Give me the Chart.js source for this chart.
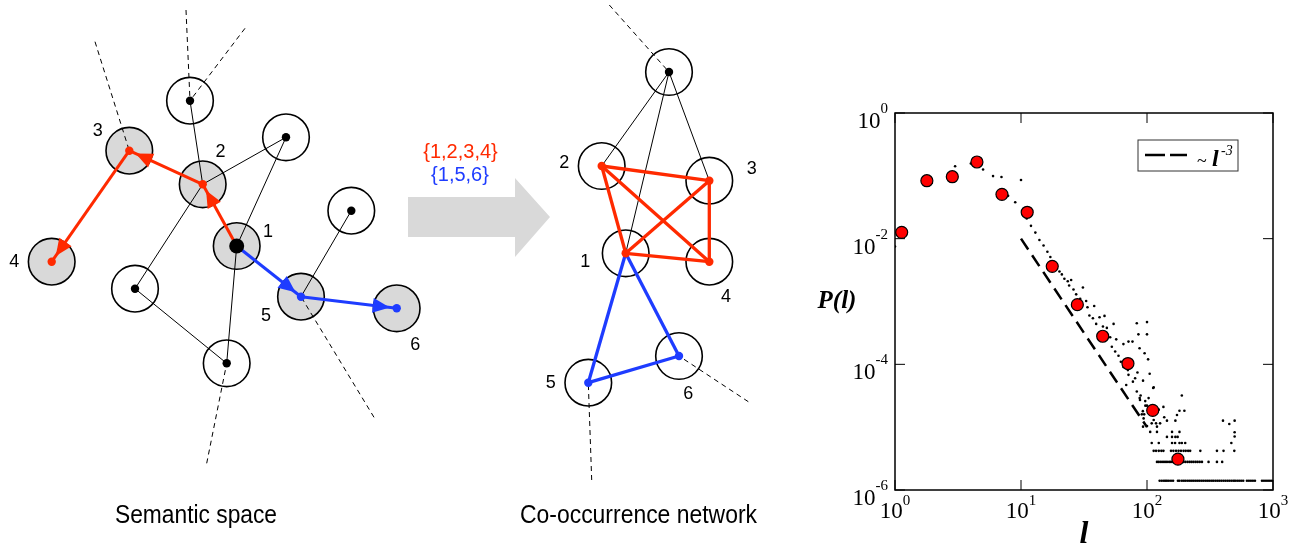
<!DOCTYPE html>
<html>
<head>
<meta charset="utf-8">
<script src="https://cdn.jsdelivr.net/npm/chart.js@4.4.1/dist/chart.umd.min.js"></script>
<style>
  html, body { margin: 0; padding: 0; background: #fff; }
  #wrap { position: relative; width: 1304px; height: 551px; overflow: hidden; }
  canvas { position: absolute; top: 0; }
  #diagram { left: 0; }
  #plot { left: 800px; }
</style>
</head>
<body>
<div id="wrap">
  <canvas id="diagram" width="800" height="551"></canvas>
  <canvas id="plot" width="504" height="551"></canvas>
</div>
<script>
const RED = '#ff2a00';
const BLUE = '#1e3cff';
const SHADE = '#d9d9d9';

// ---- semantic space (left diagram), node centres in diagram units ----
const semNames = ['1', '2', '3', '4', '5', '6', 'a', 'b', 'c', 'd', 'e'];
const semX = [236.7, 202.7, 129.3, 51.7, 301.0, 396.7, 190.0, 286.0, 351.3, 135.0, 226.7];
const semY = [246.0, 184.3, 150.7, 261.7, 296.7, 308.3, 100.7, 137.3, 210.7, 288.7, 363.3];
const semShaded = ['1', '2', '3', '4', '5', '6'];
const semEdges = [['a', '2'], ['b', '2'], ['2', 'd'], ['b', '1'], ['1', 'e'], ['d', 'e'], ['c', '5']];
const semRays = [[186, 10, 'a'], [245, 28.3, 'a'], [95, 41.7, '3'], [374, 417.3, '5'], [206.7, 463.3, 'e']];
const semRedPath = [['1', '2'], ['2', '3'], ['3', '4']];
const semBluePath = [['1', '5'], ['5', '6']];
const semLabelText = ['3', '2', '1', '4', '5', '6'];
const semLabelX = [97.7, 220.5, 268, 14.3, 266, 415.3];
const semLabelY = [130.7, 151.7, 231.7, 261.7, 316, 345];

// ---- co-occurrence network (middle diagram) ----
const netNames = ['1', '2', '3', '4', '5', '6', 't'];
const netX = [625.7, 601.7, 709.3, 709.3, 588.3, 679.0, 669.0];
const netY = [253.3, 166.0, 180.7, 261.7, 382.7, 356.0, 72.0];
const netEdges = [['t', '2'], ['t', '1'], ['t', '3']];
const netRedLinks = [['2', '3'], ['2', '1'], ['2', '4'], ['1', '3'], ['1', '4'], ['3', '4']];
const netBlueLinks = [['1', '5'], ['1', '6'], ['5', '6']];
const netRays = [[609.3, 5, 't'], [748.3, 401.7, '6'], [591.7, 480, '5']];
const netLabelText = ['2', '3', '1', '4', '5', '6'];
const netLabelX = [564.3, 751.7, 585.3, 726, 550.7, 688.3];
const netLabelY = [162.7, 169.3, 261.7, 296.7, 382.7, 394];

// walk sets and the grey arrow between the panels
const setText = ['{1,2,3,4}', '{1,5,6}'];
const setX = [460.5, 460];
const setY = [152.5, 175];
const bigArrowX = [408, 515, 515, 550, 515, 515, 408];
const bigArrowY = [197, 197, 178, 217, 257, 237, 237];
const captionText = ['Semantic space', 'Co-occurrence network'];
const captionX = [196, 638.5];

// ---- P(l) log-log plot ----
const redL = [1.13, 1.79, 2.85, 4.47, 7.06, 11.2, 17.7, 28.0, 44.5, 70.6, 111, 176];
const redP = [0.0126, 0.0836, 0.0968, 0.166, 0.0507, 0.0263, 0.00363, 8.9e-4, 2.8e-4, 1.03e-4, 1.85e-5, 3.1e-6];
const fitL = [10, 100];
const fitP = [1e-2, 1e-5];
const scatterDots = [
  [1.0, 0.0075], [1.96, 0.077], [3.0, 0.142], [4.0, 0.157], [5.0, 0.126], [6.0, 0.099], [7.0, 0.096],
  [10.0, 0.086], [7.9, 0.048], [9.0, 0.038], [11.1, 0.021], [12.0, 0.016], [13.0, 0.0125], [14.0, 0.0095],
  [15.1, 0.0078], [16.2, 0.0062], [17.1, 0.0051], [19.2, 0.0034], [20.2, 0.0030], [21.1, 0.0027],
  [22.1, 0.0023], [23.5, 0.0021], [25.0, 0.0022], [24.1, 0.0018], [26.1, 0.00155], [27.4, 0.0013],
  [31.0, 0.00167], [29.5, 0.0011], [32.9, 0.00102], [33.7, 0.00081], [38.1, 0.00085], [34.9, 0.0006],
  [37.2, 0.00054], [42, 0.00056], [46, 0.00059], [39.5, 0.00044], [44.7, 0.0004], [48, 0.00038],
  [54.3, 0.00044], [83, 0.00045], [100, 0.00047], [85.5, 0.0003], [100, 0.0003], [51, 0.00027],
  [57, 0.00025], [52.6, 0.00019], [55.9, 0.00016], [59.4, 0.000137], [65, 0.00021], [71.3, 0.00023],
  [76.7, 0.00023], [87.3, 0.00018], [95.7, 0.00015], [102, 0.00012], [105, 7.1e-5], [93, 5.5e-5],
  [112, 4.2e-5], [65, 9.1e-5], [70.5, 8.1e-5], [68.4, 4.7e-5], [71.3, 6.8e-5], [77.3, 5.3e-5],
  [80.5, 6e-5], [84, 7.4e-5], [62, 1.1e-4], [75, 9.5e-5], [83, 3.7e-5], [89, 3.2e-5], [88, 2.7e-5],
  [103, 2.9e-5], [87.5, 2.9e-5], [96.8, 2.6e-5], [100, 2.2e-5], [92.7, 1.8e-5], [95, 1.6e-5],
  [113, 4.3e-5], [189, 3.2e-5], [181, 1.83e-5], [198, 1.83e-5], [173, 1.56e-5], [168, 1.27e-5],
  [135, 2.1e-5], [124, 1.9e-5], [97, 2.2e-5], [91, 1.6e-5], [94, 1.38e-5], [137, 1.44e-5],
  [144, 1.27e-5], [113, 1.3e-5], [118, 1.15e-5], [109, 1.15e-5], [127, 1.15e-5], [100, 1.04e-5],
  [120, 1.02e-5], [93, 1.02e-5], [401, 1.27e-5], [450, 1.12e-5], [496, 1.27e-5], [496, 8.3e-6],
  [496, 7.1e-6]
];
// counts of 1..6 occurrences sit on discrete levels
const rowP = [1.4e-6, 2.8e-6, 4.2e-6, 5.6e-6, 7.0e-6, 8.4e-6];
const row1L = [126, 131, 136, 140, 144, 149, 155, 161, 176, 181, 189, 196, 203, 211, 219, 227, 235, 244,
  253, 262, 272, 282, 293, 304, 315, 327, 338, 351, 364, 377, 391, 406, 421, 437, 453, 470, 487,
  501, 520, 539, 559, 580, 621, 644, 668, 693, 719, 818, 848, 880, 913, 946, 981];
const row2L = [120, 124, 129, 134, 139, 144, 150, 155, 161, 167, 195, 202, 210, 218, 226, 234, 243,
  252, 262, 273, 308, 359, 395];
const row3L = [113, 118, 124, 130, 135, 155, 162, 170, 178, 186, 195, 203, 212, 220, 265, 359, 405, 493];
const row4L = [109, 124, 158, 167, 181, 189, 201, 467];
const row5L = [144, 158, 168, 175];
const row6L = [106, 120, 158, 181];
const xTicks = [1, 10, 100, 1000];
const xExp = ['0', '1', '2', '3'];
const yTicks = [1, 1e-2, 1e-4, 1e-6];
const yExp = ['0', '-2', '-4', '-6'];

// ---------------------------------------------------------------
const lookup = (names, xs, ys) => n => ({ x: xs[names.indexOf(n)], y: ys[names.indexOf(n)] });
const semAt = lookup(semNames, semX, semY);
const netAt = lookup(netNames, netX, netY);

function segment(a, b, color, width, dash, order) {
  return {
    data: [a, b], showLine: true, pointRadius: 0, fill: false,
    borderColor: color, borderWidth: width, borderDash: dash || [], order: order
  };
}

const diagramSets = [];
// grey arrow
diagramSets.push({
  data: bigArrowX.map((x, i) => ({ x: x, y: bigArrowY[i] })),
  showLine: true, fill: 'shape', backgroundColor: SHADE, borderWidth: 0, pointRadius: 0, order: 20
});
// node circles
const allNodes = semNames.map(semAt).concat(netNames.map(netAt));
const circleFill = semNames.map(n => semShaded.includes(n) ? SHADE : '#fff').concat(netNames.map(() => '#fff'));
diagramSets.push({
  data: allNodes, showLine: false, pointRadius: 23.3, pointBackgroundColor: circleFill,
  pointBorderColor: '#000', pointBorderWidth: 1.6, order: 10
});
semRays.forEach(r => diagramSets.push(segment({ x: r[0], y: r[1] }, semAt(r[2]), '#000', 1, [5, 4], 6)));
netRays.forEach(r => diagramSets.push(segment({ x: r[0], y: r[1] }, netAt(r[2]), '#000', 1, [5, 4], 6)));
semEdges.forEach(e => diagramSets.push(segment(semAt(e[0]), semAt(e[1]), '#000', 1, null, 5)));
netEdges.forEach(e => diagramSets.push(segment(netAt(e[0]), netAt(e[1]), '#000', 1, null, 5)));
semRedPath.forEach(e => diagramSets.push(segment(semAt(e[0]), semAt(e[1]), RED, 3, null, 4)));
semBluePath.forEach(e => diagramSets.push(segment(semAt(e[0]), semAt(e[1]), BLUE, 3, null, 4)));
netRedLinks.forEach(e => diagramSets.push(segment(netAt(e[0]), netAt(e[1]), RED, 3.3, null, 4)));
netBlueLinks.forEach(e => diagramSets.push(segment(netAt(e[0]), netAt(e[1]), BLUE, 3.3, null, 4)));

// centre dots: colour follows the walk a node belongs to
function dotColor(n, red, blue) {
  if (red.some(p => p.includes(n))) return RED;
  if (blue.some(p => p.includes(n))) return BLUE;
  return '#000';
}
const dotColors = semNames.map(n => n === '1' ? '#000' : dotColor(n, semRedPath, semBluePath))
  .concat(netNames.map(n => dotColor(n, netRedLinks, netBlueLinks)));
const dotSizes = semNames.map(n => n === '1' ? 7.5 : 4.2).concat(netNames.map(() => 4.2));
diagramSets.push({
  data: allNodes, showLine: false, pointRadius: dotSizes, pointBackgroundColor: dotColors,
  pointBorderWidth: 0, order: 1
});

const arrowHeads = {
  id: 'arrowHeads',
  afterDatasetsDraw(chart) {
    const { ctx, scales: { x, y } } = chart;
    const heads = semRedPath.map(p => [p, RED]).concat(semBluePath.map(p => [p, BLUE]));
    ctx.save();
    heads.forEach(([[from, to], color]) => {
      const a = semAt(from), b = semAt(to);
      const ax = x.getPixelForValue(a.x), ay = y.getPixelForValue(a.y);
      const bx = x.getPixelForValue(b.x), by = y.getPixelForValue(b.y);
      const len = Math.hypot(bx - ax, by - ay);
      const ux = (bx - ax) / len, uy = (by - ay) / len;
      const tx = bx - ux * 7, ty = by - uy * 7;
      const hx = tx - ux * 17, hy = ty - uy * 17;
      ctx.beginPath();
      ctx.moveTo(tx, ty);
      ctx.lineTo(hx - uy * 7.5, hy + ux * 7.5);
      ctx.lineTo(hx + uy * 7.5, hy - ux * 7.5);
      ctx.closePath();
      ctx.fillStyle = color;
      ctx.fill();
    });
    ctx.restore();
  }
};

const diagramText = {
  id: 'diagramText',
  afterDraw(chart) {
    const { ctx, scales: { x, y } } = chart;
    ctx.save();
    ctx.fillStyle = '#000';
    ctx.textAlign = 'center';
    ctx.textBaseline = 'middle';
    ctx.font = "18px 'Liberation Sans', Arial, sans-serif";
    semLabelText.forEach((t, i) => ctx.fillText(t, x.getPixelForValue(semLabelX[i]), y.getPixelForValue(semLabelY[i])));
    netLabelText.forEach((t, i) => ctx.fillText(t, x.getPixelForValue(netLabelX[i]), y.getPixelForValue(netLabelY[i])));
    ctx.font = "20px 'Liberation Sans', Arial, sans-serif";
    setText.forEach((t, i) => {
      ctx.fillStyle = i === 0 ? RED : BLUE;
      ctx.fillText(t, x.getPixelForValue(setX[i]), y.getPixelForValue(setY[i]));
    });
    ctx.fillStyle = '#000';
    ctx.textBaseline = 'alphabetic';
    ctx.font = "25px 'Liberation Sans Narrow', 'Liberation Sans', Arial, sans-serif";
    const widths = [162, 237];
    captionText.forEach((t, i) => ctx.fillText(t, x.getPixelForValue(captionX[i]), 523, widths[i]));
    ctx.restore();
  }
};

new Chart(document.getElementById('diagram'), {
  type: 'scatter',
  data: { datasets: diagramSets },
  options: {
    responsive: false,
    animation: false,
    events: [],
    layout: { padding: 0, autoPadding: false },
    plugins: { legend: { display: false }, tooltip: { enabled: false } },
    scales: {
      x: { type: 'linear', min: 0, max: 800, display: false },
      y: { type: 'linear', min: 0, max: 551, reverse: true, display: false }
    }
  },
  plugins: [arrowHeads, diagramText]
});

// ---------------------------------------------------------------
const SERIF = "'Liberation Serif', 'Times New Roman', serif";
const rowDots = [row1L, row2L, row3L, row4L, row5L, row6L]
  .flatMap((ls, k) => ls.map(l => ({ x: l, y: rowP[k] })));
const looseDots = scatterDots.map(d => ({ x: d[0], y: d[1] }));

const plotDecor = {
  id: 'plotDecor',
  afterDraw(chart) {
    const { ctx, chartArea: a, scales: { x, y } } = chart;
    ctx.save();
    ctx.strokeStyle = '#000';
    ctx.lineWidth = 1.5;
    ctx.strokeRect(a.left, a.top, a.right - a.left, a.bottom - a.top);

    ctx.lineWidth = 1;
    ctx.beginPath();
    xTicks.forEach(v => {
      const px = x.getPixelForValue(v);
      ctx.moveTo(px, a.bottom); ctx.lineTo(px, a.bottom - 10);
      ctx.moveTo(px, a.top); ctx.lineTo(px, a.top + 10);
    });
    yTicks.forEach(v => {
      const py = y.getPixelForValue(v);
      ctx.moveTo(a.left, py); ctx.lineTo(a.left + 10, py);
      ctx.moveTo(a.right, py); ctx.lineTo(a.right - 10, py);
    });
    ctx.stroke();

    const BASE = '23px ' + SERIF, EXP = '15px ' + SERIF;
    ctx.fillStyle = '#000';
    ctx.textBaseline = 'alphabetic';
    ctx.textAlign = 'left';
    xTicks.forEach((v, i) => {
      const px = x.getPixelForValue(v);
      ctx.font = BASE; const w1 = ctx.measureText('10').width;
      ctx.font = EXP; const w2 = ctx.measureText(xExp[i]).width;
      const x0 = px - (w1 + w2) / 2;
      ctx.font = BASE; ctx.fillText('10', x0, a.bottom + 28);
      ctx.font = EXP; ctx.fillText(xExp[i], x0 + w1, a.bottom + 15);
    });
    yTicks.forEach((v, i) => {
      const py = y.getPixelForValue(v);
      ctx.font = BASE; const w1 = ctx.measureText('10').width;
      ctx.font = EXP; const w2 = ctx.measureText(yExp[i]).width;
      const x0 = a.left - 7 - w1 - w2;
      ctx.font = BASE; ctx.fillText('10', x0, py + 15);
      ctx.font = EXP; ctx.fillText(yExp[i], x0 + w1, py);
    });

    // axis titles
    ctx.textAlign = 'center';
    ctx.font = 'bold italic 25px ' + SERIF;
    ctx.fillText('P(l)', a.left - 58, a.top + 195);
    ctx.font = 'bold italic 32px ' + SERIF;
    ctx.fillText('l', (a.left + a.right) / 2, a.bottom + 53);

    // legend
    const lx = a.left + 243, ly = a.top + 27;
    ctx.strokeStyle = '#333';
    ctx.lineWidth = 1;
    ctx.strokeRect(lx, ly, 100, 31);
    ctx.strokeStyle = '#000';
    ctx.lineWidth = 2.5;
    ctx.setLineDash([20, 5]);
    ctx.beginPath(); ctx.moveTo(lx + 7, ly + 15); ctx.lineTo(lx + 49, ly + 15); ctx.stroke();
    ctx.setLineDash([]);
    ctx.textAlign = 'left';
    ctx.font = '18px ' + SERIF;
    ctx.fillText('~', lx + 59, ly + 27);
    ctx.font = 'bold italic 24px ' + SERIF;
    ctx.fillText('l', lx + 74, ly + 26);
    ctx.font = 'italic 14px ' + SERIF;
    ctx.fillText('-3', lx + 83, ly + 15);
    ctx.restore();
  }
};

new Chart(document.getElementById('plot'), {
  type: 'scatter',
  data: {
    datasets: [
      {
        data: redL.map((l, i) => ({ x: l, y: redP[i] })),
        pointRadius: 6, pointBackgroundColor: '#ff0000', pointBorderColor: '#000',
        pointBorderWidth: 1.2, order: 0
      },
      {
        data: fitL.map((l, i) => ({ x: l, y: fitP[i] })),
        showLine: true, pointRadius: 0, borderColor: '#000', borderWidth: 2.5,
        borderDash: [13, 7], order: 1
      },
      {
        data: looseDots.concat(rowDots),
        pointRadius: 1.3, pointBackgroundColor: '#000', pointBorderWidth: 0, order: 2
      }
    ]
  },
  options: {
    responsive: false,
    animation: false,
    events: [],
    layout: { padding: { left: 95, right: 31, top: 113, bottom: 61 }, autoPadding: false },
    plugins: { legend: { display: false }, tooltip: { enabled: false } },
    scales: {
      x: { type: 'logarithmic', min: 1, max: 1000, display: false },
      y: { type: 'logarithmic', min: 1e-6, max: 1, display: false }
    }
  },
  plugins: [plotDecor]
});
</script>
</body>
</html>
